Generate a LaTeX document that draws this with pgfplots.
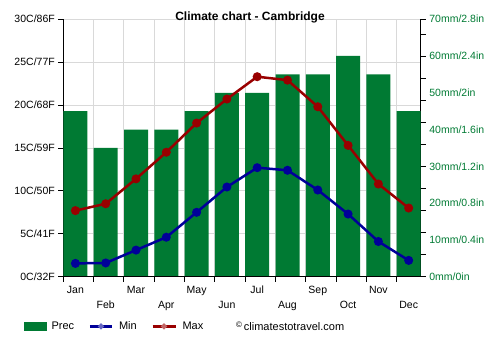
\documentclass[border=0pt]{standalone}
\usepackage{pgfplots}
\pgfplotsset{compat=1.18}
\usepackage{fontspec}
\setmainfont{Liberation Sans}
\definecolor{prec}{RGB}{0,122,51}
\definecolor{tmin}{RGB}{0,0,153}
\definecolor{tmax}{RGB}{153,0,0}
\definecolor{gridc}{RGB}{217,217,217}
\pgfplotsset{base/.style={scale only axis, width=357.5pt, height=257.5pt,
  at={(63.3pt,73.3pt)}, anchor=south west, xmin=-0.4, xmax=11.4,
  tick label style={font=\fontsize{10.5}{12}\selectfont},
  tick align=outside, major tick length=5pt, minor tick length=5pt,
  tick style={black, line width=0.8pt}}}
\begin{document}
\begin{tikzpicture}
\path[use as bounding box] (0pt,0pt) rectangle (500pt,350pt);
% Axis A: temperature scale, grid, left and bottom axes
\begin{axis}[base, ymin=0, ymax=30,
  axis x line*=bottom, axis y line*=left,
  axis line style={black, line width=0.8pt, -},
  ytick={0,5,10,15,20,25,30},
  yticklabels={0C/32F,5C/41F,10C/50F,15C/59F,20C/68F,25C/77F,30C/86F},
  ymajorgrids, xmajorgrids,
  grid style={gridc, line width=0.8pt},
  xtick={-0.4,0.6,1.6,2.6,3.6,4.6,5.6,6.6,7.6,8.6,9.6,10.6},
  xticklabels={},
  extra x ticks={0,1,2,3,4,5,6,7,8,9,10,11},
  extra x tick labels={Jan,\raisebox{-15pt}{Feb},Mar,\raisebox{-15pt}{Apr},May,\raisebox{-15pt}{Jun},Jul,\raisebox{-15pt}{Aug},Sep,\raisebox{-15pt}{Oct},Nov,\raisebox{-15pt}{Dec}},
  extra x tick style={major tick length=0pt, grid=none,
    xticklabel style={text height=8pt, text depth=2pt, yshift=-5pt}},
]
\end{axis}
% Axis B: precipitation bars, right axis
\begin{axis}[base, ymin=0, ymax=70,
  hide x axis, axis y line*=right,
  axis line style={black, line width=0.8pt, -},
  ytick={0,10,20,30,40,50,60,70},
  yticklabels={0mm/0in,10mm/0.4in,20mm/0.8in,30mm/1.2in,40mm/1.6in,50mm/2in,60mm/2.4in,70mm/2.8in},
  major tick length=0pt,
  minor ytick={0,6,12,18,24,30,36,42,48,54,60,66,70},
  yticklabel style={text=prec, xshift=5pt},
]
\addplot[ybar, bar width=24pt, fill=prec, draw=none] coordinates {
(0,45) (1,35) (2,40) (3,40) (4,45) (5,50) (6,50) (7,55) (8,55) (9,60) (10,55) (11,45)};
\end{axis}
% Axis C: temperature lines
\begin{axis}[base, ymin=0, ymax=30,
  hide y axis, axis x line*=bottom, xtick=\empty,
  axis line style={black, line width=0.8pt, -},
  legend columns=-1,
  legend style={draw=none, fill=none, inner sep=0pt,
    nodes={inner sep=0pt},
    /tikz/every odd column/.append style={column sep=5.3pt},
    /tikz/every even column/.append style={column sep=14pt},
    at={(-0.1099,-0.1926)}, anchor=west,
    font=\fontsize{11}{13}\selectfont},
]
\addlegendimage{legend image code/.code={\fill[prec] (0pt,-4.4pt) rectangle (21.7pt,4.4pt);}}
\addlegendentry{Prec}
\addplot[tmin, line width=2.5pt, mark=*, mark size=3.2pt,
  legend image code/.code={\draw[tmin, line width=3.5pt] (0pt,0pt) -- (22pt,0pt); \fill[tmin!60!white] (11pt,0pt) circle (1.5pt);}] coordinates {
(0,1.55) (1,1.6) (2,3.1) (3,4.6) (4,7.5) (5,10.45) (6,12.7) (7,12.4) (8,10.1) (9,7.3) (10,4.1) (11,1.9)};
\addlegendentry{Min}
\addplot[tmax, line width=2.5pt, mark=*, mark size=3.2pt,
  legend image code/.code={\draw[tmax, line width=3.5pt] (0pt,0pt) -- (23pt,0pt); \fill[tmax!60!white] (11.5pt,0pt) circle (1.5pt);}] coordinates {
(0,7.7) (1,8.5) (2,11.4) (3,14.5) (4,17.9) (5,20.7) (6,23.3) (7,22.9) (8,19.8) (9,15.3) (10,10.8) (11,8.0)};
\addlegendentry{Max}
\end{axis}
\node[font=\bfseries\fontsize{12}{14}\selectfont] at (250pt,333pt) {Climate chart - Cambridge};
\node[anchor=west, font=\fontsize{11}{13}\selectfont, inner sep=0pt] at (236pt,23.7pt) {\raisebox{2.5pt}{\fontsize{8}{9}\selectfont\textcopyright}\,climatestotravel.com};
\end{tikzpicture}
\end{document}
